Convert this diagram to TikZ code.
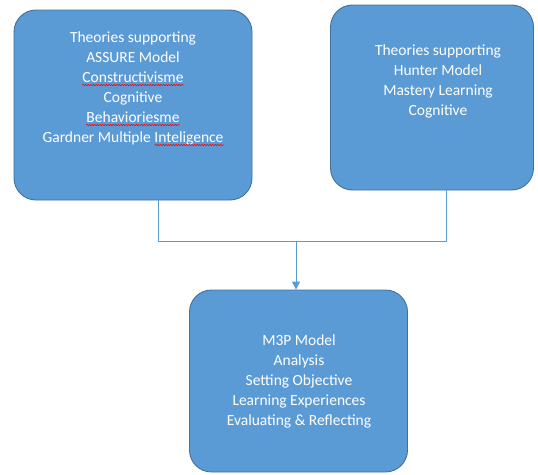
\documentclass[tikz,border=0pt]{standalone}
\usepackage{fontspec}
\setmainfont{Carlito}
\usetikzlibrary{arrows.meta,decorations.pathmorphing}
\definecolor{boxfill}{HTML}{5B9BD5}
\definecolor{boxline}{HTML}{41719C}
\definecolor{conn}{HTML}{5B9BD5}
\newcommand\boxfont{\fontsize{15.5}{18}\selectfont}
\newlength\intw
\AtBeginDocument{\settowidth{\intw}{\boxfont Inteligence}}
\tikzset{
  box/.style={draw=boxline, line width=0.9pt, fill=boxfill, rounded corners=22pt, inner sep=0pt},
  txt/.style={text=white, inner sep=0pt, anchor=base, font=\boxfont},
  spell/.style={draw=red, line width=0.55pt, decorate, decoration={snake, amplitude=0.7pt, segment length=2.6pt}},
  link/.style={draw=conn, line width=1pt},
}
\begin{document}
\begin{tikzpicture}[x=1pt,y=-1pt]
\useasboundingbox (0,0) rectangle (538,474);
% boxes
\node[box, minimum width=238pt, minimum height=190pt] (L) at (133,105) {};
\node[box, minimum width=203pt, minimum height=185pt] (R) at (432,97.5) {};
\node[box, minimum width=218pt, minimum height=182pt] (B) at (298.5,381) {};
% left text
\node[txt] (l1) at (133,42) {Theories supporting};
\node[txt] (l2) at (133,62) {ASSURE Model};
\node[txt] (l3) at (133,82) {Constructivisme};
\node[txt] (l4) at (133,102) {Cognitive};
\node[txt] (l5) at (133,122) {Behavioriesme};
\node[txt] (l6) at (133,142) {Gardner Multiple Inteligence};
\coordinate (s6) at ([xshift=-\intw]l6.base east);
\draw[spell] ([yshift=-3pt]l3.base west) -- ([yshift=-3pt]l3.base east);
\draw[spell] ([yshift=-3pt]l5.base west) -- ([yshift=-3pt]l5.base east);
\draw[spell] ([yshift=-3pt]s6) -- ([yshift=-3pt]l6.base east);
% right text
\node[txt] (r1) at (438,55) {Theories supporting};
\node[txt] (r2) at (438,75) {Hunter Model};
\node[txt] (r3) at (438,95) {Mastery Learning};
\node[txt] (r4) at (438,115) {Cognitive};
% bottom text
\node[txt] (b1) at (299,345) {M3P Model};
\node[txt] (b2) at (299,365) {Analysis};
\node[txt] (b3) at (299,385) {Setting Objective};
\node[txt] (b4) at (299,405) {Learning Experiences};
\node[txt] (b5) at (299,425) {Evaluating \& Reflecting};
% connectors
\coordinate (jl) at (158,241);
\coordinate (jr) at (446,241);
\coordinate (j) at (296,241);
\draw[link] (jl |- L.south) -- (jl) -- (jr) -- (jr |- R.south);
\draw[link, -{Triangle[length=8pt,width=8pt]}] (j) -- (j |- B.north);
\end{tikzpicture}
\end{document}
